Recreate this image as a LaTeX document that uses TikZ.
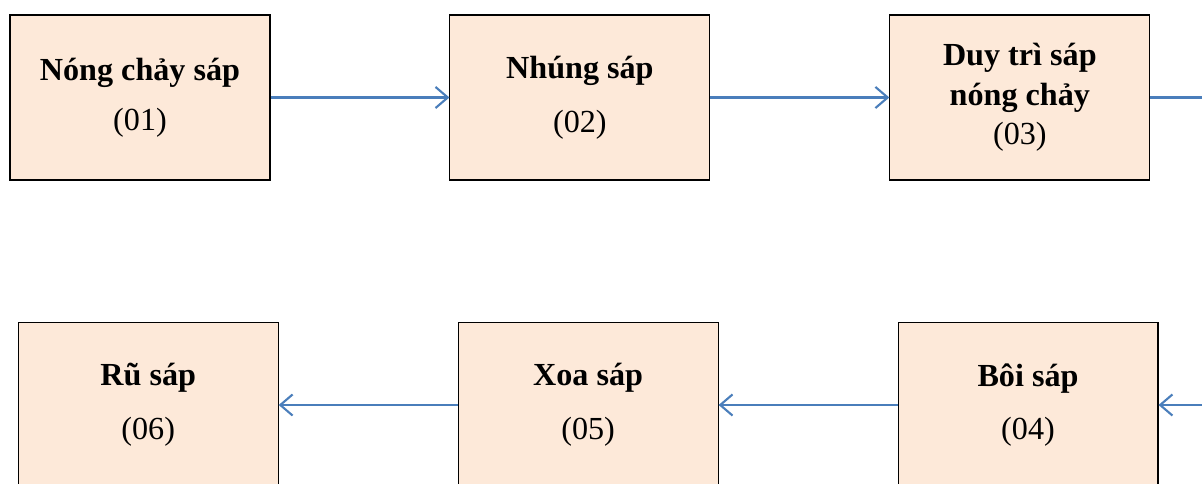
\documentclass[tikz,border=0pt]{standalone}
\usepackage{fontspec}
\setmainfont{Liberation Serif}
\usetikzlibrary{positioning,arrows.meta}
\definecolor{boxfill}{RGB}{253,233,217}
\definecolor{flowblue}{RGB}{74,126,187}

\begin{document}
\begin{tikzpicture}[x=0.02cm,y=-0.02cm,
					>={Straight Barb[length=7pt,width=12pt]},
					node distance=8.8cm,
					step node/.style={rectangle,draw=black,line width=0.6pt,fill=boxfill,
						minimum width=5.2cm,minimum height=3.3cm,inner sep=0pt,
						align=center,font=\fontsize{18.3}{22.5}\selectfont},
					flow/.style={draw=flowblue,line width=1.2pt}]

  \clip (0,0) rectangle (1202,483);

  \node[step node] (n01) at (140,97.5) {\textbf{Nóng chảy sáp}\\[6pt](01)};
  \node[step node] (n02) [right of=n01] {\textbf{Nhúng sáp}\\[8pt](02)};
  \node[step node] (n03) [right of=n02] {\textbf{Duy trì sáp}\\\textbf{nóng chảy}\\(03)};

  \node[step node] (n04) at (1028,405) {\textbf{Bôi sáp}\\[8pt](04)};
  \node[step node] (n05) [left of=n04] {\textbf{Xoa sáp}\\[8pt](05)};
  \node[step node] (n06) [left of=n05] {\textbf{Rũ sáp}\\[8pt](06)};

  \coordinate (out03) at (1215,97.5);
  \coordinate (in04) at (1215,405);

  \path[flow]
    (n01) edge[->] (n02)
    (n02) edge[->] (n03)
    (n03) edge (out03)
    (in04) edge[->] (n04)
    (n04) edge[->] (n05)
    (n05) edge[->] (n06);
\end{tikzpicture}
\end{document}
